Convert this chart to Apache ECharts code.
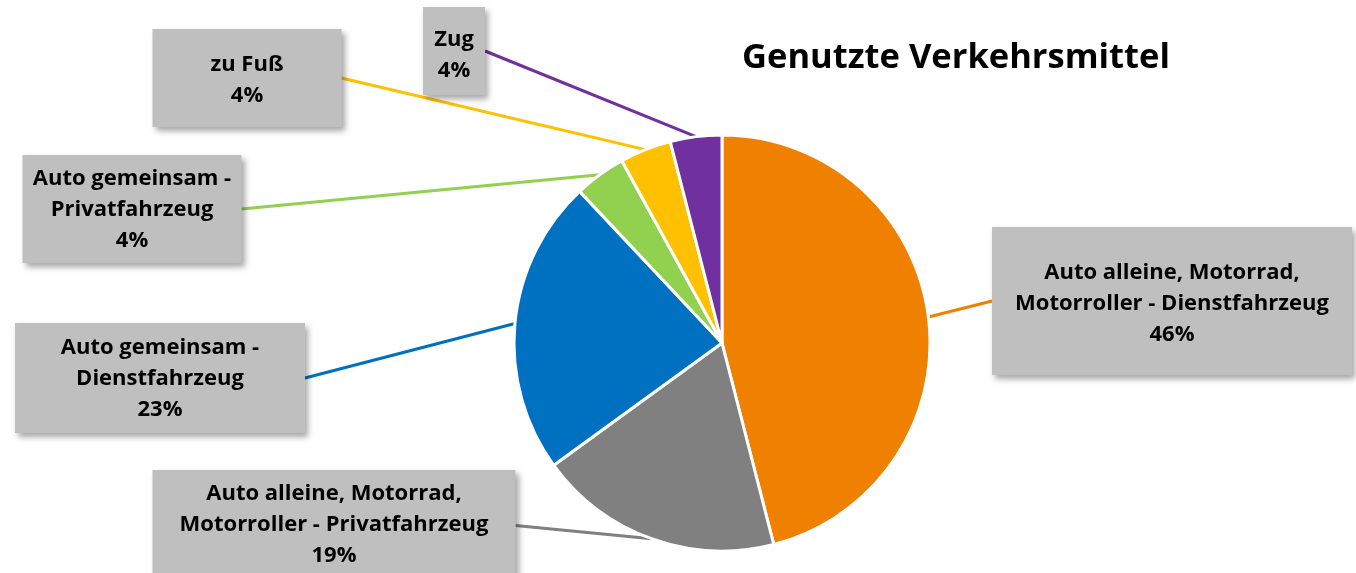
<!DOCTYPE html>
<html>
<head>
<meta charset="utf-8">
<script src="https://cdn.jsdelivr.net/npm/echarts@6/dist/echarts.min.js"></script>
<style>
  html, body { margin: 0; padding: 0; background: #ffffff; }
  #chart { width: 1356px; height: 573px; }
</style>
</head>
<body>
<div id="chart"></div>
<script>
// Verkehrsmittel und Anteile (Prozent)
const categories = [
  'Auto alleine, Motorrad,\nMotorroller - Dienstfahrzeug',
  'Auto alleine, Motorrad,\nMotorroller - Privatfahrzeug',
  'Auto gemeinsam -\nDienstfahrzeug',
  'Auto gemeinsam -\nPrivatfahrzeug',
  'zu Fuß',
  'Zug'
];
const shares = [46, 19, 23, 4, 4, 4];
const sliceColors = ['#F08000', '#808080', '#0070C0', '#92D050', '#FFC000', '#7030A0'];

// Platzierung der Beschriftungskästen: Mitte x, Oberkante y, Breite, Innenabstand oben/unten
const labelBoxes = [
  { cx: 1172, top: 227, w: 360, padTop: 30, padBottom: 25 },
  { cx: 334,  top: 470, w: 363, padTop: 8,  padBottom: 10 },
  { cx: 160,  top: 323, w: 290, padTop: 9,  padBottom: 8 },
  { cx: 132,  top: 155, w: 219, padTop: 8,  padBottom: 7 },
  { cx: 247,  top: 29,  w: 189, padTop: 20, padBottom: 16 },
  { cx: 454,  top: 7,   w: 62,  padTop: 17, padBottom: 9 }
];

const FONT = '"Open Sans", Lato, sans-serif';

const chart = echarts.init(document.getElementById('chart'), null, { renderer: 'canvas' });

const seriesData = categories.map(function (name, i) {
  const box = labelBoxes[i];
  return {
    name: name,
    value: shares[i],
    itemStyle: { color: sliceColors[i] },
    label: {
      width: box.w,
      padding: [box.padTop, 0, box.padBottom, 0]
    }
  };
});

chart.setOption({
  animation: false,
  backgroundColor: '#ffffff',
  title: {
    text: 'Genutzte Verkehrsmittel',
    left: 951,
    top: 36,
    textAlign: 'center',
    textStyle: {
      fontFamily: FONT,
      fontWeight: 'bold',
      fontSize: 34.5,
      color: '#000000'
    }
  },
  series: [{
    type: 'pie',
    center: [722, 343],
    radius: [0, 208],
    startAngle: 90,
    clockwise: true,
    avoidLabelOverlap: false,
    itemStyle: { borderColor: '#ffffff', borderWidth: 3 },
    label: {
      show: true,
      position: 'outside',
      formatter: '{b}\n{d}%',
      fontFamily: FONT,
      fontWeight: 'bold',
      fontSize: 22,
      lineHeight: 31,
      color: '#000000',
      align: 'center',
      overflow: 'none',
      backgroundColor: '#BFBFBF',
      shadowColor: 'rgba(0,0,0,0.35)',
      shadowBlur: 6,
      shadowOffsetX: 3,
      shadowOffsetY: 4
    },
    labelLine: {
      show: true,
      length: 20,
      length2: 0,
      smooth: false,
      lineStyle: { width: 3 }
    },
    labelLayout: function (params) {
      const box = labelBoxes[params.dataIndex];
      return { x: box.cx, y: box.top, align: 'center', verticalAlign: 'top' };
    },
    emphasis: { disabled: true },
    data: seriesData
  }]
});
</script>
</body>
</html>
